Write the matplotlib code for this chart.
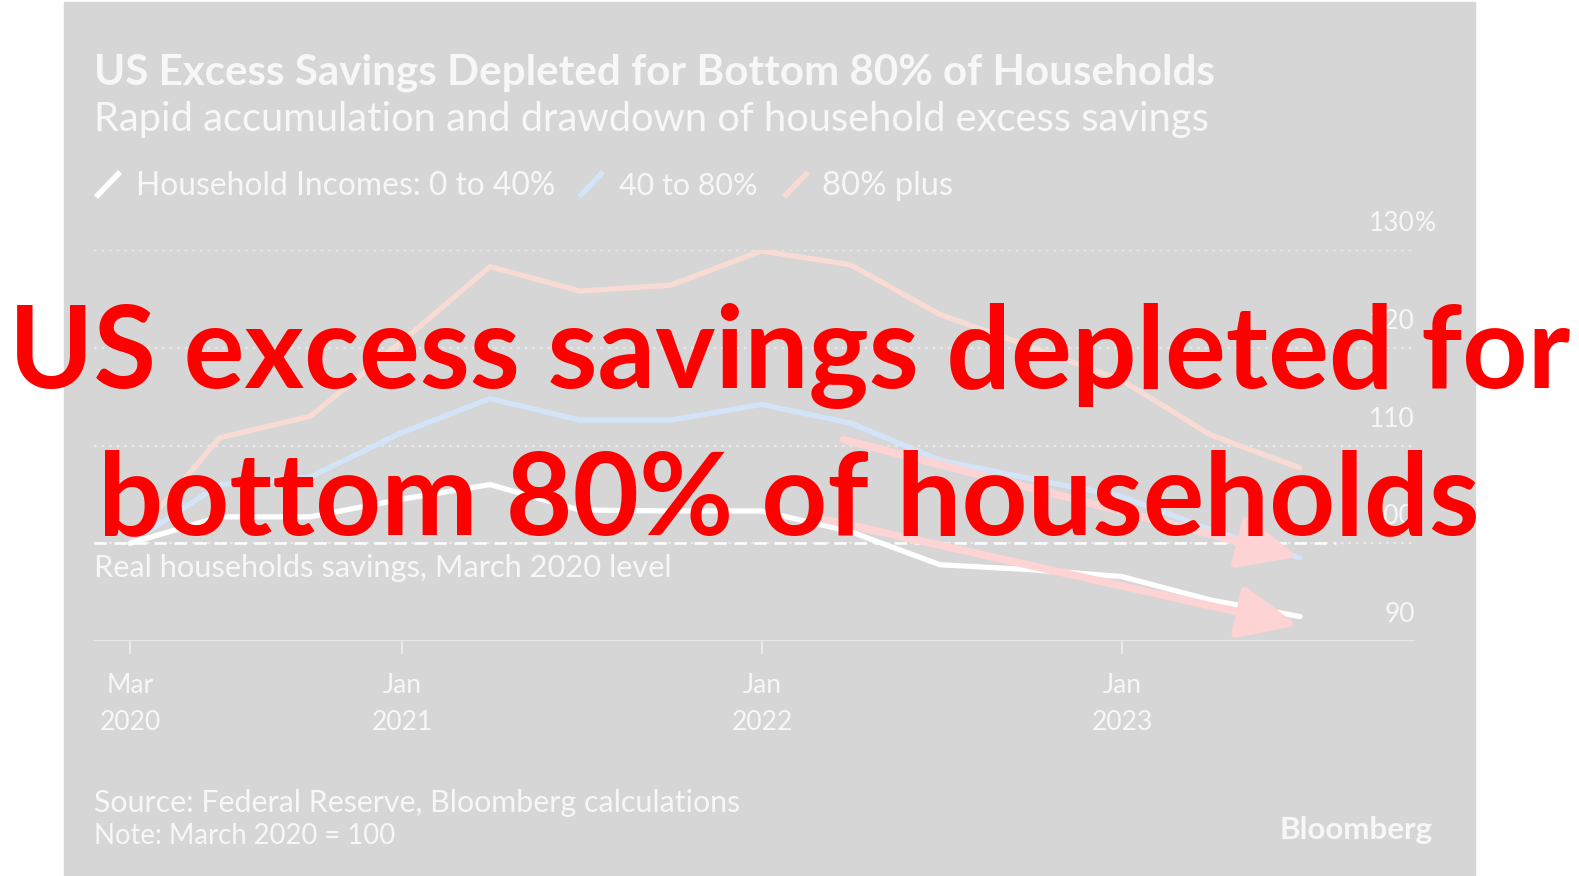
import matplotlib
matplotlib.use('Agg')
import matplotlib.pyplot as plt
import matplotlib.dates as mdates
from matplotlib.lines import Line2D
from matplotlib.patches import Rectangle, FancyArrowPatch
import pandas as pd

# quarterly points, March 2020 = 100
quarters = pd.date_range('2020-03-31', periods=14, freq='QE')
income_0_40 = [100, 102.7, 102.7, 104.5, 106.0, 103.4, 103.3, 103.3, 101.2, 97.8, 97.3, 96.6, 94.2, 92.5]
income_40_80 = [100, 106.0, 106.8, 111.3, 114.8, 112.6, 112.6, 114.2, 112.3, 108.5, 106.6, 104.8, 101.4, 98.5]
income_80_plus = [100, 110.8, 113.0, 120.6, 128.3, 125.8, 126.4, 129.9, 128.5, 123.4, 120.1, 116.7, 111.1, 107.7]

series_names = ['Household Incomes: 0 to 40%', '40 to 80%', '80% plus']
y_ticks = [90, 100, 110, 120, 130]
y_tick_labels = ['90', '100', '110', '120', '130']
x_ticks = ['2020-03-31', '2021-01-01', '2022-01-01', '2023-01-01']
x_tick_labels = ['Mar\n2020', 'Jan\n2021', 'Jan\n2022', 'Jan\n2023']

# the two hand-drawn arrows (start, end) in data terms
arrow_starts = [('2022-03-24', 110.6), ('2022-03-07', 102.4)]
arrow_ends = [('2023-06-28', 98.6), ('2023-06-28', 91.6)]

title = 'US Excess Savings Depleted for Bottom 80% of Households'
subtitle = 'Rapid accumulation and drawdown of household excess savings'
overlay = ['US excess savings depleted for', 'bottom 80% of households']

plt.rcParams['font.family'] = ['Lato', 'DejaVu Sans']

W, H = 1579, 876
BG = '#d6d6d6'
TXT = '#f7f7f7'
colors = ['#ffffff', '#d4e4f8', '#f8dcd3']

fig = plt.figure(figsize=(W / 100, H / 100), dpi=100)
fig.patch.set_facecolor('white')
fig.add_artist(Rectangle((63.5 / W, 0), (1475 - 63.5) / W, (H - 2) / H,
                         transform=fig.transFigure, color=BG, zorder=0))


def fx(x):
    return x / W


def fy(y):
    return 1 - y / H


def fit(t, width):
    r = fig.canvas.get_renderer()
    for _ in range(3):
        w = t.get_window_extent(r).width
        t.set_fontsize(t.get_fontsize() * width / w)
    return t


# header
fit(fig.text(fx(94), fy(73), title, color=TXT, weight='bold', va='center', fontsize=30), 1120)
fit(fig.text(fx(94), fy(120), subtitle, color=TXT, va='center', fontsize=26), 1113)

# legend
leg_x = [(96, 136, 419), (579, 619, 138), (784, 822, 131)]
for (lx, tx, tw), name, c in zip(leg_x, series_names, colors):
    fig.add_artist(Line2D([fx(lx), fx(lx + 24)], [fy(197), fy(172)], lw=4, color=c,
                          solid_capstyle='butt'))
    fit(fig.text(fx(tx), fy(186), name, color=TXT, va='center', fontsize=20), tw)

# chart
ax = fig.add_axes([fx(94), fy(641), (1415 - 94) / W, (641 - 250) / H])
ax.set_facecolor('none')
for s in ax.spines.values():
    s.set_visible(False)

x0 = mdates.date2num(quarters[0])
x1 = mdates.date2num(quarters[-1])
ppd = (1300 - 130) / (x1 - x0)
ax.set_xlim(x0 - (130 - 94) / ppd, x1 + (1415 - 1300) / ppd)
ax.set_ylim(90, 130)

for v in y_ticks[1:]:
    ax.axhline(v, color='#e9e9e9', lw=1.6, ls=(0, (1.2, 2.2)), zorder=1)
ax.axhline(90, color='#eeeeee', lw=1.8, zorder=1)
ax.axhline(100, xmin=0, xmax=0.94, color='white', lw=1.8, ls=(0, (5, 3)), zorder=2)

for vals, c in zip([income_80_plus, income_40_80, income_0_40], colors[::-1]):
    ax.plot(quarters, vals, color=c, lw=3.8, solid_joinstyle='round',
            solid_capstyle='round', zorder=3)

ax.set_yticks([])
ax.set_xticks(pd.to_datetime(x_ticks))
ax.set_xticklabels(x_tick_labels, linespacing=1.62)
ax.tick_params(axis='x', direction='out', length=9, width=1.2, color='#eeeeee',
               labelcolor=TXT, labelsize=19, pad=14)

for v, lab in zip(y_ticks, y_tick_labels):
    ax.annotate(lab, xy=(1, v), xycoords=('axes fraction', 'data'), xytext=(0, 19),
                textcoords='offset points', ha='right', va='center', color=TXT, fontsize=19)
ax.annotate('%', xy=(1, y_ticks[-1]), xycoords=('axes fraction', 'data'), xytext=(0, 19),
            textcoords='offset points', ha='left', va='center', color=TXT, fontsize=19)

fit(ax.annotate('Real households savings, March 2020 level', xy=(0, 100),
                xycoords=('axes fraction', 'data'), xytext=(0, -17.5), textcoords='offset points',
                ha='left', va='center', color=TXT, fontsize=20), 576)

# arrows
for (sd, sv), (ed, ev) in zip(arrow_starts, arrow_ends):
    arr = FancyArrowPatch((mdates.date2num(pd.Timestamp(sd)), sv),
                          (mdates.date2num(pd.Timestamp(ed)), ev),
                          arrowstyle='-|>,head_length=36,head_width=16', lw=5.5,
                          color='#fdd3d3', shrinkA=0, shrinkB=0, zorder=5, clip_on=False)
    ax.add_patch(arr)

# footer
fit(fig.text(fx(94), fy(803), 'Source: Federal Reserve, Bloomberg calculations', color=TXT,
             va='center', fontsize=19), 646)
fit(fig.text(fx(94), fy(836), 'Note: March 2020 = 100', color=TXT, va='center', fontsize=19), 301)
fit(fig.text(fx(1279), fy(830), 'Bloomberg', color=TXT, weight='bold', va='center',
             fontsize=19), 153)

# big red overlay
fit(fig.text(fx(790), fy(388), overlay[0], color='#ff0000', weight='bold', ha='center',
             va='baseline', fontsize=90, zorder=10), 1561)
fit(fig.text(fx(789), fy(534), overlay[1], color='#ff0000', weight='bold', ha='center',
             va='baseline', fontsize=90, zorder=10), 1382)

fig.savefig('out.png', dpi=100, facecolor=fig.get_facecolor())
